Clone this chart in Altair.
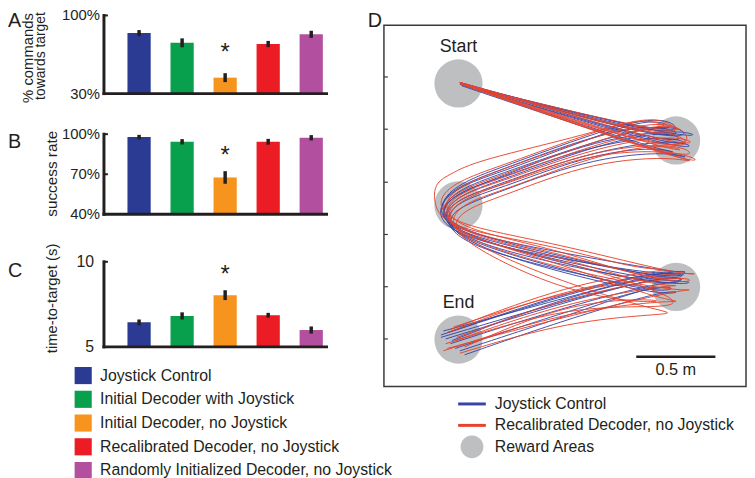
import altair as alt
import pandas as pd

FONT = "Liberation Sans"
INK = "#231f20"

# ---------------- data: bar panels ----------------
groups = [
    "Joystick Control",
    "Initial Decoder with Joystick",
    "Initial Decoder, no Joystick",
    "Recalibrated Decoder, no Joystick",
    "Randomly Initialized Decoder, no Joystick",
]
sig_group = "Initial Decoder, no Joystick"

cmd_mean = [84.2, 75.5, 44.3, 74.4, 83.1]
cmd_err = [2.7, 4.0, 4.0, 2.8, 3.2]
succ_mean = [97.8, 94.3, 67.6, 94.3, 97.3]
succ_err = [1.7, 2.0, 4.7, 2.2, 2.0]
ttt_mean = [6.44, 6.82, 8.04, 6.86, 5.99]
ttt_err = [0.17, 0.21, 0.29, 0.14, 0.21]

cmd_ticks = [30, 100]
cmd_tick_labels = ["30%", "100%"]
succ_ticks = [40, 70, 100]
succ_tick_labels = ["40%", "70%", "100%"]
ttt_ticks = [5, 10]
ttt_tick_labels = ["5", "10"]

# ---------------- data: panel D (cm, origin bottom-left of workspace) ----------------
target_x = [47.1, 184.6, 47.1, 184.6, 47.1]
target_y = [191.4, 155.4, 114.4, 62.9, 29.6]
target_names = ["Start", "", "", "", "End"]
workspace_tick_y = [30, 63, 96, 129, 162.5, 195.5]

blue_traj = [
    [(48,192),(198,149),(189,169),(132.5,155),(76,135),(50,126),(35,114),(42,97.5),(107.5,79),(189,60),(192,74),(120,55),(39,30)],
    [(48,192),(195,152),(181,174),(132.5,160),(76,139),(51,130),(34,117.5),(40,100),(107.5,83),(195,64),(187.5,76),(120,60),(36,32.5)],
    [(49,191),(202.5,144),(192,158),(132.5,149),(76,129),(51,120),(36,110),(44,94),(107.5,75),(182.5,56),(186,67.5),(120,49),(45,24)],
    [(48,191),(192.5,155),(175,172.5),(132.5,157.5),(76,136),(49,127.5),(32.5,114),(39,96),(107.5,81),(192,67.5),(195,77),(120,57.5),(37.5,35)],
    [(49,190),(200,139),(189,149),(132.5,145),(76,124),(54,116),(39,107.5),(46,92.5),(107.5,72.5),(186,55),(189,64),(120,44),(51,20)],
    [(48,192),(196,147.5),(185,164),(132.5,152),(76,131),(51,122.5),(36,111),(42.5,95),(107.5,77),(198,61),(194,70.6),(120,52),(42,27)],
    [(49,191),(204,152.5),(195,164),(132.5,156),(76,133),(50,124),(34,112.5),(41,99),(107.5,85),(195,70),(182.5,75),(120,61),(40,34)],
    [(48,191),(194,142.5),(179,152),(132.5,147.5),(76,126),(52.5,119),(37.5,109),(45,91),(107.5,74),(179,59),(176,66),(120,46),(48,22.5)],
    [(48,191),(201,146),(187.5,160),(132.5,153),(76,132.5),(50.6,124.4),(35,113),(40.6,96.9),(107.5,80),(192.5,62.5),(190,72.5),(120,56),(36,31)],
    [(49,191),(197,151),(180,167.5),(132.5,159),(76,137.5),(49.4,128),(33,115.6),(39.4,98),(107.5,82),(187.5,66),(197,75),(120,59),(43,29)],
]
red_traj = [
    [(48,192),(202.5,139),(189,172.5),(132.5,158),(76,137.5),(52.5,129),(36,117.5),(44,100),(107.5,87.5),(170,66),(195,70.6),(120,62.5),(44,37.5)],
    [(49,191),(207.5,135),(195,149),(132.5,149),(76,127),(51,121),(37.5,110),(46,95),(107.5,81),(189,56),(182.5,49),(120,52),(39,27)],
    [(48,192),(198,149),(177.5,175),(130.6,159.4),(57.5,142.5),(42,134),(32.5,129),(31,117.5),(37.5,100),(107.5,89.4),(164,72.5),(189,75),(120,66),(42,36)],
    [(48,191),(195,155),(184,169),(132.5,155),(76,134),(50,125),(34,114),(42,99),(107.5,85),(195,61),(198,72.5),(120,58),(46,31)],
    [(48,192),(204,146),(192,161),(132.5,151),(76,130),(51,122.5),(36,111),(46,96),(107.5,79),(182.5,52),(192,55),(120,49),(37.5,22.5)],
    [(49,191),(200,142.5),(182.5,155),(132.5,146),(76,124),(54,117.5),(40,106),(50,92.5),(107.5,67.5),(173,47.5),(189,46),(120,42.5),(48,21)],
    [(48,192),(192,152),(173,172.5),(132.5,161),(76,140),(49,131),(32.5,119),(40,102.5),(107.5,91),(198,67.5),(201,74),(120,64),(40,34)],
    [(49,191),(206,137.5),(189,145.6),(132.5,142.5),(76,120.6),(56,114),(42,104),(51,90),(110.6,61),(164,52),(182.5,55),(120,55),(51,25)],
    [(48,192),(204,141),(186,166),(132.5,153),(76,132),(51,124),(36,112.5),(45,97.5),(107.5,83),(177.5,61),(195,66),(120,55),(45,29)],
    [(49,191),(201,137.5),(193.75,155),(132.5,150),(76,128),(53,120),(38,109),(47.5,94),(107.5,75),(192,58),(200,64),(120,45.6),(40,24)],
]
scalebar_x0 = 159.4
scalebar_y = 18.75
scalebar_len_cm = 50
scalebar_label = "0.5 m"

legend_d_labels = ["Joystick Control", "Recalibrated Decoder, no Joystick", "Reward Areas"]
legend_d_rows = [0, 1, 2]

# ---------------- styles ----------------
bar_colors = ["#2b3a93", "#09a04d", "#f7941d", "#ec1c24", "#b2509f"]
line_colors = ["#3646a6", "#e6432c"]
reward_gray = "#bebfc1"

W, H = 747, 470
XR = [99, 340]
AX_X = 97
BASE_END = 322


def txt(s, x, y, size, angle=0, align="center", baseline="alphabetic"):
    kw = dict(font=FONT, fontSize=size, color=INK, align=align, baseline=baseline)
    if angle:
        kw["angle"] = angle
    return alt.Chart(pd.DataFrame({"t": [s]})).mark_text(**kw).encode(
        x=alt.value(x), y=alt.value(y), text="t:N")


def bar_panel(mean, err, domain, yrange, ticks, tick_labels, label_right, tick_size, star_dy, legend):
    df = pd.DataFrame({
        "group": groups,
        "mean": mean,
        "lo": [m - e for m, e in zip(mean, err)],
        "hi": [m + e for m, e in zip(mean, err)],
    })
    xs = alt.Scale(domain=groups, range=XR, paddingInner=0.46, paddingOuter=0.5)
    ys = alt.Scale(domain=domain, range=yrange, zero=False, nice=False)
    X = alt.X("group:N", scale=xs, axis=None)
    bars = alt.Chart(df).mark_bar().encode(
        x=X,
        y=alt.Y("mean:Q", scale=ys, axis=None),
        y2=alt.datum(domain[0]),
        color=alt.Color("group:N", scale=alt.Scale(domain=groups, range=bar_colors), legend=legend),
    )
    errs = alt.Chart(df).mark_rule(strokeWidth=3.5, color=INK).encode(
        x=X, y=alt.Y("lo:Q", scale=ys, axis=None), y2="hi:Q")
    star = alt.Chart(df).transform_filter(alt.datum.group == sig_group).mark_text(
        text="*", font=FONT, fontSize=24, color=INK, baseline="middle", dy=star_dy
    ).encode(x=X, y=alt.Y("hi:Q", scale=ys, axis=None))
    ax_df = pd.DataFrame({"lo": [domain[0]], "hi": [domain[1]]})
    yaxis = alt.Chart(ax_df).mark_rule(strokeWidth=3, color=INK, strokeCap="square").encode(
        x=alt.value(AX_X), y=alt.Y("lo:Q", scale=ys, axis=None), y2="hi:Q")
    base = alt.Chart(ax_df).mark_rule(strokeWidth=3, color=INK, strokeCap="square").encode(
        x=alt.value(AX_X), x2=alt.value(BASE_END), y=alt.Y("lo:Q", scale=ys, axis=None))
    tdf = pd.DataFrame({"v": ticks, "label": tick_labels})
    tks = alt.Chart(tdf).transform_filter(alt.datum.v > domain[0]).mark_rule(
        strokeWidth=2, color=INK).encode(
        x=alt.value(AX_X), x2=alt.value(AX_X + 4), y=alt.Y("v:Q", scale=ys, axis=None))
    tlab = alt.Chart(tdf).mark_text(font=FONT, fontSize=tick_size, color=INK, align="right",
                                    baseline="middle").encode(
        x=alt.value(label_right), y=alt.Y("v:Q", scale=ys, axis=None), text="label:N")
    return alt.layer(bars, errs, star, yaxis, base, tks, tlab)


legend_left = alt.Legend(
    orient="none", legendX=67, legendY=360, title=None, symbolType="square",
    symbolSize=300, symbolStrokeWidth=0, labelFont=FONT, labelFontSize=16, labelColor=INK,
    rowPadding=6, labelOffset=8, labelLimit=0, padding=0, direction="vertical",
)

panelA = bar_panel(cmd_mean, cmd_err, [30, 100], [84, 5], cmd_ticks, cmd_tick_labels, 93, 15, -20, legend_left)
panelB = bar_panel(succ_mean, succ_err, [40, 100], [206, 125], succ_ticks, succ_tick_labels, 93, 15, -15, None)
panelC = bar_panel(ttt_mean, ttt_err, [5, 10], [340, 254], ttt_ticks, ttt_tick_labels, 87, 16, -15, None)

# ---------------- panel D ----------------
xsD = alt.Scale(domain=[0, 228.75], range=[380, 746], nice=False, zero=False)
ysD = alt.Scale(domain=[0, 228.1], range=[380, 15], nice=False, zero=False)

rows = []
for method, trajs in [("Joystick Control", blue_traj), ("Recalibrated Decoder, no Joystick", red_traj)]:
    for k, tr in enumerate(trajs):
        for i, (x, y) in enumerate(tr):
            rows.append({"method": method, "traj": f"{method}-{k:02d}", "i": i, "x": x, "y": y})
traj_df = pd.DataFrame(rows)

frame_df = pd.DataFrame({"x0": [0], "x1": [228.75], "y0": [0], "y1": [228.1]})
frame = alt.Chart(frame_df).mark_rect(fillOpacity=0, stroke="#3a3a3a", strokeWidth=1.5).encode(
    x=alt.X("x0:Q", scale=xsD, axis=None), x2="x1:Q",
    y=alt.Y("y0:Q", scale=ysD, axis=None), y2="y1:Q")
dticks = alt.Chart(pd.DataFrame({"v": workspace_tick_y})).mark_rule(strokeWidth=1.2, color="#3a3a3a").encode(
    x=alt.value(380), x2=alt.value(384), y=alt.Y("v:Q", scale=ysD, axis=None))
tgt_df = pd.DataFrame({"x": target_x, "y": target_y, "name": target_names})
circles = alt.Chart(tgt_df).mark_circle(size=2376, color=reward_gray, opacity=1).encode(
    x=alt.X("x:Q", scale=xsD, axis=None), y=alt.Y("y:Q", scale=ysD, axis=None))
tgt_labels = alt.Chart(tgt_df).transform_filter(alt.datum.name != "").mark_text(
    font=FONT, fontSize=18, color=INK, dy=-37, baseline="middle").encode(
    x=alt.X("x:Q", scale=xsD, axis=None), y=alt.Y("y:Q", scale=ysD, axis=None), text="name:N")
lines = alt.Chart(traj_df).mark_line(strokeWidth=1.0, interpolate="basis", opacity=0.95).encode(
    x=alt.X("x:Q", scale=xsD, axis=None),
    y=alt.Y("y:Q", scale=ysD, axis=None),
    detail="traj:N",
    order="i:Q",
    color=alt.Color("method:N", scale=alt.Scale(domain=["Joystick Control", "Recalibrated Decoder, no Joystick"], range=line_colors), legend=None),
)
sb_df = pd.DataFrame({"x0": [scalebar_x0], "x1": [scalebar_x0 + scalebar_len_cm],
                      "xm": [scalebar_x0 + scalebar_len_cm / 2], "y": [scalebar_y], "label": [scalebar_label]})
sbar = alt.Chart(sb_df).mark_rule(strokeWidth=2.5, color=INK).encode(
    x=alt.X("x0:Q", scale=xsD, axis=None), x2="x1:Q", y=alt.Y("y:Q", scale=ysD, axis=None))
sbar_t = alt.Chart(sb_df).mark_text(font=FONT, fontSize=16.5, color=INK, dy=13, baseline="middle").encode(
    x=alt.X("xm:Q", scale=xsD, axis=None), y=alt.Y("y:Q", scale=ysD, axis=None), text="label:N")
panelD = alt.layer(frame, dticks, circles, tgt_labels, lines, sbar, sbar_t)

# ---------------- legend for D ----------------
ld_df = pd.DataFrame({"label": legend_d_labels, "row": legend_d_rows})
ly = alt.Y("row:Q", scale=alt.Scale(domain=[0, 2], range=[397.7, 441], nice=False, zero=False), axis=None)
ld_lines = alt.Chart(ld_df).transform_filter(alt.datum.row < 2).mark_rule(strokeWidth=3).encode(
    x=alt.value(455), x2=alt.value(483), y=ly,
    color=alt.Color("label:N", scale=alt.Scale(domain=legend_d_labels[:2], range=line_colors), legend=None))
ld_circle = alt.Chart(ld_df).transform_filter(alt.datum.row == 2).mark_circle(
    size=531, color=reward_gray, opacity=1).encode(x=alt.value(469), y=ly)
ld_text = alt.Chart(ld_df).mark_text(font=FONT, fontSize=16, color=INK, align="left", baseline="middle").encode(
    x=alt.value(492), y=ly, text="label:N")
legendD = alt.layer(ld_lines, ld_circle, ld_text)

# ---------------- titles & letters ----------------
texts = [
    txt("A", 0, 17, 20, align="left"),
    txt("B", 0, 139, 20, align="left"),
    txt("C", 0, 269, 20, align="left"),
    txt("D", 378, 17, 20, align="right"),
    txt("% commands", 25, 48, 15, angle=270),
    txt("towards target", 37, 46, 14, angle=270),
    txt("success rate", 50, 165, 15.5, angle=270),
    txt("time-to-target (s)", 50, 291, 15, angle=270),
]

chart = alt.layer(panelA, panelB, panelC, panelD, legendD, *texts).resolve_scale(
    x="independent", y="independent", color="independent"
).properties(width=W, height=H, padding=0, autosize=alt.AutoSizeParams(type="none")).configure_view(stroke=None)

chart.save("out.html", embed_options={"renderer": "svg", "actions": False})
